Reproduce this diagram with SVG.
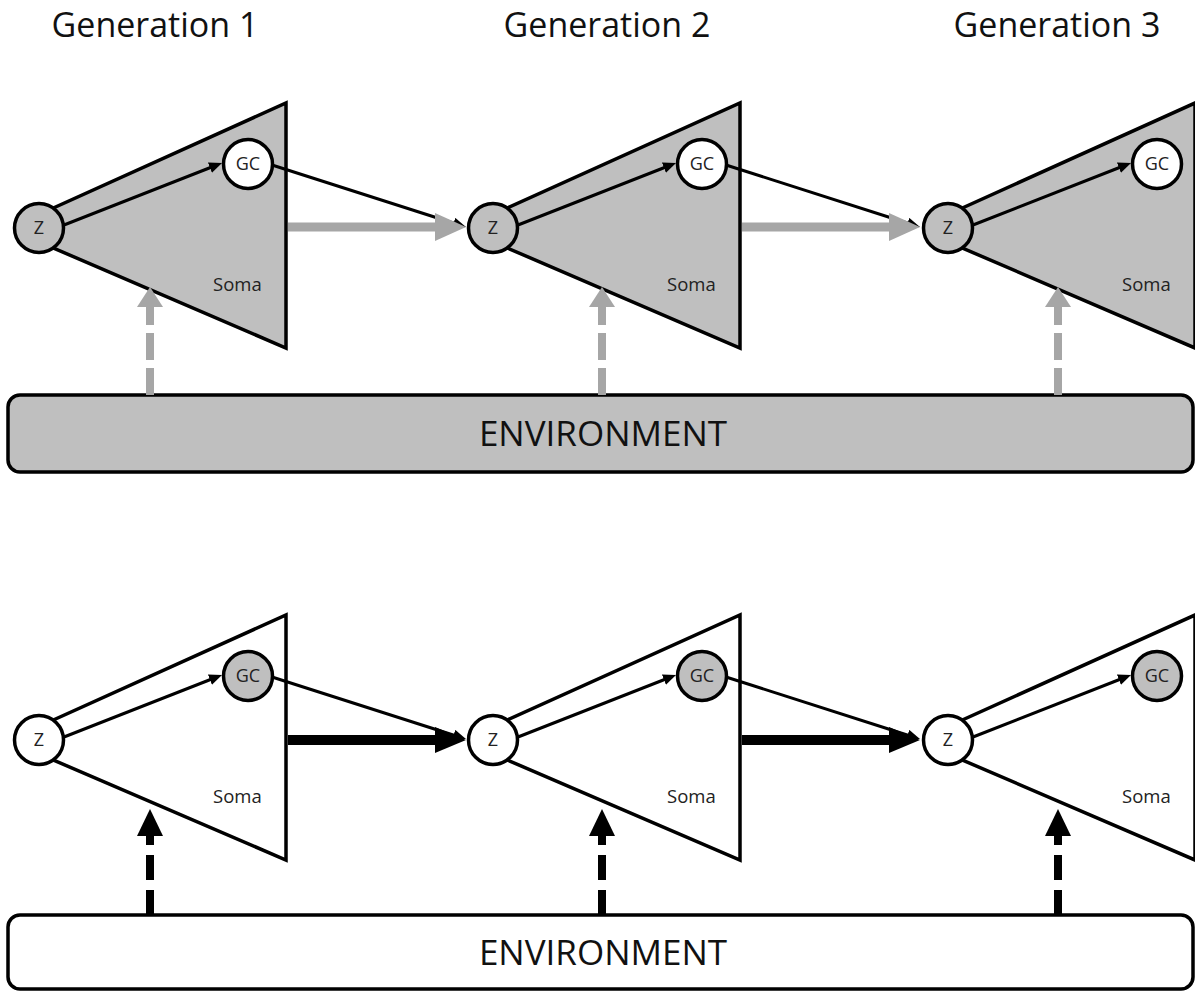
<svg xmlns="http://www.w3.org/2000/svg" width="1195" height="991" viewBox="0 0 1195 991">
<style>
.title{font-family:"Open Sans","Liberation Sans",sans-serif;font-size:34px;fill:#111;text-anchor:middle}
.env-t{font-family:"Open Sans","Liberation Sans",sans-serif;font-size:35px;fill:#111;text-anchor:middle}
.lbl{font-family:"Open Sans","Liberation Sans",sans-serif;font-size:18px;fill:#222;text-anchor:middle}
.soma-t{font-family:"Open Sans","Liberation Sans",sans-serif;font-size:18.5px;fill:#222}
.tri{stroke:#000;stroke-width:3.5;stroke-linejoin:miter}
.g{fill:#bfbfbf}
.w{fill:#fff}
.circ{stroke:#000;stroke-width:3.5}
.env{stroke:#000;stroke-width:3.5}
.thin{stroke:#000;stroke-width:3;fill:none}
.gh{stroke:#a6a6a6;stroke-width:9;fill:none}
.bh{stroke:#000;stroke-width:10;fill:none}
.gv{stroke:#a6a6a6;stroke-width:8;fill:none;stroke-dasharray:27 8}
.bv{stroke:#000;stroke-width:8;fill:none;stroke-dasharray:25 10}
</style>
<defs>
<marker id="ah" markerUnits="userSpaceOnUse" viewBox="0 0 13 11" markerWidth="13" markerHeight="11" refX="2" refY="5.5" orient="auto"><path d="M0,0 L13,5.5 L0,11 Z" fill="#000"/></marker>
<marker id="ghm" markerUnits="userSpaceOnUse" viewBox="0 0 31 28" markerWidth="31" markerHeight="28" refX="5" refY="14" orient="auto"><path d="M0,0 L31,14 L0,28 Z" fill="#a6a6a6"/></marker>
<marker id="bhm" markerUnits="userSpaceOnUse" viewBox="0 0 31 26" markerWidth="31" markerHeight="26" refX="5" refY="13" orient="auto"><path d="M0,0 L31,13 L0,26 Z" fill="#000"/></marker>
<marker id="gvm" markerUnits="userSpaceOnUse" viewBox="0 0 20 26" markerWidth="20" markerHeight="26" refX="1" refY="13" orient="auto"><path d="M0,0 L20,13 L0,26 Z" fill="#a6a6a6"/></marker>
<marker id="bvm" markerUnits="userSpaceOnUse" viewBox="0 0 27 26" markerWidth="27" markerHeight="26" refX="1" refY="13" orient="auto"><path d="M0,0 L27,13 L0,26 Z" fill="#000"/></marker>
</defs>

<g id="titles">
<text class="title" x="155" y="37">Generation 1</text>
<text class="title" x="607" y="37">Generation 2</text>
<text class="title" x="1057" y="37">Generation 3</text>
</g>

<g id="environment-top"><rect class="env g" x="8" y="395" width="1185" height="77" rx="12"/><text class="env-t" x="603" y="446">ENVIRONMENT</text></g>
<g id="environment-bottom"><rect class="env w" x="8" y="915" width="1185" height="74" rx="12"/><text class="env-t" x="603" y="965">ENVIRONMENT</text></g>

<!-- top row -->
<g id="top-gen1" transform="translate(0,0)">
<g id="top-soma1"><path class="tri g" d="M50,209.5 L286,103 L286,348 L50,246.6 Z"/><text class="soma-t" x="213" y="291">Soma</text></g>
<g id="top-z1"><circle class="circ g" cx="39" cy="228" r="24.5"/><text class="lbl" x="39" y="234">Z</text></g>
<g id="top-gc1"><circle class="circ w" cx="248" cy="164" r="24.5"/><text class="lbl" x="248" y="170">GC</text></g>
</g>
<g id="top-gen2" transform="translate(454,0)">
<g id="top-soma2"><path class="tri g" d="M50,209.5 L286,103 L286,348 L50,246.6 Z"/><text class="soma-t" x="213" y="291">Soma</text></g>
<g id="top-z2"><circle class="circ g" cx="39" cy="228" r="24.5"/><text class="lbl" x="39" y="234">Z</text></g>
<g id="top-gc2"><circle class="circ w" cx="248" cy="164" r="24.5"/><text class="lbl" x="248" y="170">GC</text></g>
</g>
<g id="top-gen3" transform="translate(909,0)">
<g id="top-soma3"><path class="tri g" d="M50,209.5 L286,103 L286,348 L50,246.6 Z"/><text class="soma-t" x="213" y="291">Soma</text></g>
<g id="top-z3"><circle class="circ g" cx="39" cy="228" r="24.5"/><text class="lbl" x="39" y="234">Z</text></g>
<g id="top-gc3"><circle class="circ w" cx="248" cy="164" r="24.5"/><text class="lbl" x="248" y="170">GC</text></g>
</g>

<!-- bottom row -->
<g id="bot-gen1" transform="translate(0,512)">
<g id="bot-soma1"><path class="tri w" d="M50,209.5 L286,103 L286,348 L50,246.6 Z"/><text class="soma-t" x="213" y="291">Soma</text></g>
<g id="bot-z1"><circle class="circ w" cx="39" cy="228" r="24.5"/><text class="lbl" x="39" y="234">Z</text></g>
<g id="bot-gc1"><circle class="circ g" cx="248" cy="164" r="24.5"/><text class="lbl" x="248" y="170">GC</text></g>
</g>
<g id="bot-gen2" transform="translate(454,512)">
<g id="bot-soma2"><path class="tri w" d="M50,209.5 L286,103 L286,348 L50,246.6 Z"/><text class="soma-t" x="213" y="291">Soma</text></g>
<g id="bot-z2"><circle class="circ w" cx="39" cy="228" r="24.5"/><text class="lbl" x="39" y="234">Z</text></g>
<g id="bot-gc2"><circle class="circ g" cx="248" cy="164" r="24.5"/><text class="lbl" x="248" y="170">GC</text></g>
</g>
<g id="bot-gen3" transform="translate(909,512)">
<g id="bot-soma3"><path class="tri w" d="M50,209.5 L286,103 L286,348 L50,246.6 Z"/><text class="soma-t" x="213" y="291">Soma</text></g>
<g id="bot-z3"><circle class="circ w" cx="39" cy="228" r="24.5"/><text class="lbl" x="39" y="234">Z</text></g>
<g id="bot-gc3"><circle class="circ g" cx="248" cy="164" r="24.5"/><text class="lbl" x="248" y="170">GC</text></g>
</g>

<g id="connectors">
<!-- Z to GC within cells -->
<line class="thin" x1="64" y1="225" x2="211.8" y2="167" marker-end="url(#ah)"/>
<line class="thin" x1="518" y1="225" x2="665.8" y2="167" marker-end="url(#ah)"/>
<line class="thin" x1="973" y1="225" x2="1120.8" y2="167" marker-end="url(#ah)"/>
<line class="thin" x1="64" y1="737" x2="211.8" y2="679" marker-end="url(#ah)"/>
<line class="thin" x1="518" y1="737" x2="665.8" y2="679" marker-end="url(#ah)"/>
<line class="thin" x1="973" y1="737" x2="1120.8" y2="679" marker-end="url(#ah)"/>
<!-- GC to next Z -->
<line class="thin" x1="272" y1="165" x2="455.5" y2="223.7" marker-end="url(#ah)"/>
<line class="thin" x1="726" y1="165" x2="909.5" y2="223.7" marker-end="url(#ah)"/>
<line class="thin" x1="272" y1="677" x2="455.5" y2="735.7" marker-end="url(#ah)"/>
<line class="thin" x1="726" y1="677" x2="909.5" y2="735.7" marker-end="url(#ah)"/>
<!-- soma to next Z -->
<line class="gh" x1="288" y1="227" x2="440" y2="227" marker-end="url(#ghm)"/>
<line class="gh" x1="742" y1="227" x2="894" y2="227" marker-end="url(#ghm)"/>
<line class="bh" x1="288" y1="740" x2="440" y2="740" marker-end="url(#bhm)"/>
<line class="bh" x1="742" y1="740" x2="894" y2="740" marker-end="url(#bhm)"/>
<!-- environment to soma -->
<line class="gv" x1="150" y1="395" x2="150" y2="306" marker-end="url(#gvm)"/>
<line class="gv" x1="602" y1="395" x2="602" y2="306" marker-end="url(#gvm)"/>
<line class="gv" x1="1058" y1="395" x2="1058" y2="306" marker-end="url(#gvm)"/>
<line class="bv" x1="150" y1="915" x2="150" y2="835" marker-end="url(#bvm)"/>
<line class="bv" x1="602" y1="915" x2="602" y2="835" marker-end="url(#bvm)"/>
<line class="bv" x1="1058" y1="915" x2="1058" y2="835" marker-end="url(#bvm)"/>
</g>
</svg>
